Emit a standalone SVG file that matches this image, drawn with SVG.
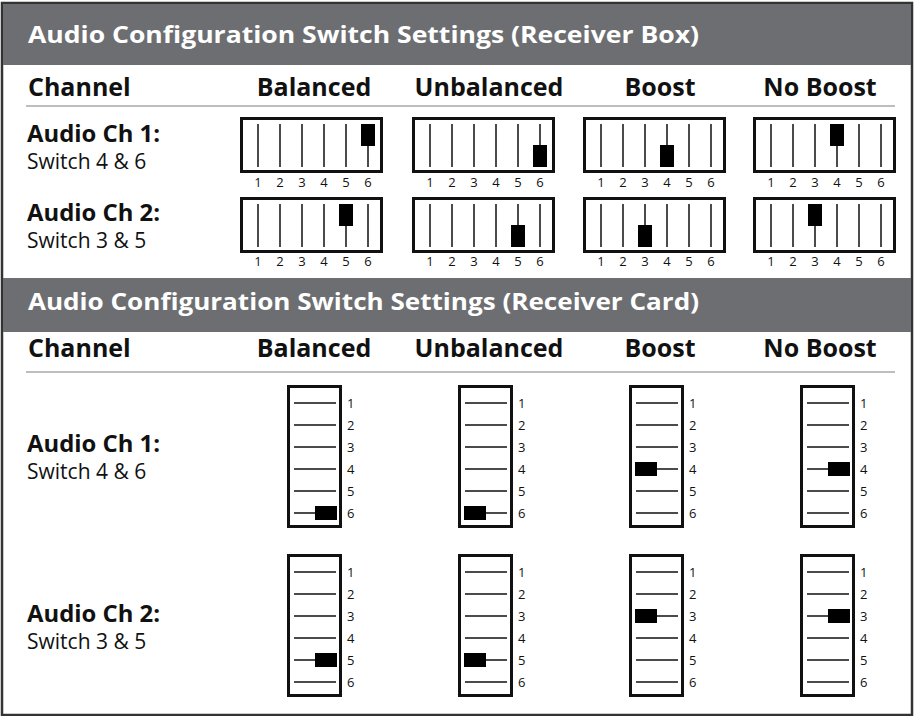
<svg xmlns="http://www.w3.org/2000/svg" width="917" height="716" viewBox="0 0 917 716">
<style>
.hdr{fill:#6d6e71}
.htxt{font-family:"Open Sans","Liberation Sans",sans-serif;font-weight:700;font-size:24px;fill:#fff}
.col{font-family:"Open Sans","Liberation Sans",sans-serif;font-weight:700;font-size:25px;fill:#111}
.ch{font-family:"Open Sans","Liberation Sans",sans-serif;font-weight:700;font-size:23px;fill:#111}
.sw{font-family:"Open Sans","Liberation Sans",sans-serif;font-size:21px;fill:#111}
.num{font-family:"Open Sans","Liberation Sans",sans-serif;font-size:13px;fill:#111}
.mid{text-anchor:middle}
.box{fill:#fff;stroke:#111;stroke-width:3}
.ln{stroke:#111;stroke-width:1.5}
.knob{fill:#000}
.div{stroke:#a7a9ac;stroke-width:1.5}
</style>
<rect x="0" y="0" width="917" height="716" fill="#fff"/>
<rect x="2" y="3" width="910" height="712" fill="none" stroke="#333" stroke-width="2.5"/>

<g id="header-box">
<rect class="hdr" x="3" y="4" width="908" height="61"/>
<text class="htxt" x="28" y="43" textLength="671" lengthAdjust="spacingAndGlyphs">Audio Configuration Switch Settings (Receiver Box)</text>
</g>
<g id="cols-box">
<text class="col" x="28" y="96">Channel</text>
<text class="col mid" x="314" y="96">Balanced</text>
<text class="col mid" x="489" y="96">Unbalanced</text>
<text class="col mid" x="660" y="96">Boost</text>
<text class="col mid" x="820" y="96">No Boost</text>
<line class="div" x1="26" y1="106" x2="895" y2="106"/>
</g>
<g id="rows-box">
<text class="ch" x="27" y="142" textLength="133" lengthAdjust="spacingAndGlyphs">Audio Ch 1:</text>
<text class="sw" x="27" y="169">Switch 4 &amp; 6</text>
<text class="ch" x="27" y="221" textLength="133" lengthAdjust="spacingAndGlyphs">Audio Ch 2:</text>
<text class="sw" x="27" y="248">Switch 3 &amp; 5</text>
</g>

<!-- Top row 1 -->
<g id="box-r1-balanced">
<rect class="box" x="241.5" y="118.5" width="140" height="53"/>
<path class="ln" d="M258 124V167M280 124V167M302 124V167M324 124V167M346 124V167M368 124V167"/>
<rect class="knob" x="361" y="124" width="14" height="22"/>
<g class="num mid"><text x="258" y="187">1</text><text x="280" y="187">2</text><text x="302" y="187">3</text><text x="324" y="187">4</text><text x="346" y="187">5</text><text x="368" y="187">6</text></g>
</g>
<g id="box-r1-unbalanced">
<rect class="box" x="413.5" y="118.5" width="140" height="53"/>
<path class="ln" d="M430 124V167M452 124V167M474 124V167M496 124V167M518 124V167M540 124V167"/>
<rect class="knob" x="533" y="145" width="14" height="22"/>
<g class="num mid"><text x="430" y="187">1</text><text x="452" y="187">2</text><text x="474" y="187">3</text><text x="496" y="187">4</text><text x="518" y="187">5</text><text x="540" y="187">6</text></g>
</g>
<g id="box-r1-boost">
<rect class="box" x="584.5" y="118.5" width="140" height="53"/>
<path class="ln" d="M601 124V167M623 124V167M645 124V167M667 124V167M689 124V167M711 124V167"/>
<rect class="knob" x="660" y="145" width="14" height="22"/>
<g class="num mid"><text x="601" y="187">1</text><text x="623" y="187">2</text><text x="645" y="187">3</text><text x="667" y="187">4</text><text x="689" y="187">5</text><text x="711" y="187">6</text></g>
</g>
<g id="box-r1-noboost">
<rect class="box" x="754.5" y="118.5" width="140" height="53"/>
<path class="ln" d="M771 124V167M793 124V167M815 124V167M837 124V167M859 124V167M881 124V167"/>
<rect class="knob" x="830" y="124" width="14" height="22"/>
<g class="num mid"><text x="771" y="187">1</text><text x="793" y="187">2</text><text x="815" y="187">3</text><text x="837" y="187">4</text><text x="859" y="187">5</text><text x="881" y="187">6</text></g>
</g>

<!-- Top row 2 -->
<g id="box-r2-balanced">
<rect class="box" x="241.5" y="198.5" width="140" height="53"/>
<path class="ln" d="M258 204V247M280 204V247M302 204V247M324 204V247M346 204V247M368 204V247"/>
<rect class="knob" x="339" y="204" width="14" height="22"/>
<g class="num mid"><text x="258" y="266">1</text><text x="280" y="266">2</text><text x="302" y="266">3</text><text x="324" y="266">4</text><text x="346" y="266">5</text><text x="368" y="266">6</text></g>
</g>
<g id="box-r2-unbalanced">
<rect class="box" x="413.5" y="198.5" width="140" height="53"/>
<path class="ln" d="M430 204V247M452 204V247M474 204V247M496 204V247M518 204V247M540 204V247"/>
<rect class="knob" x="511" y="225" width="14" height="22"/>
<g class="num mid"><text x="430" y="266">1</text><text x="452" y="266">2</text><text x="474" y="266">3</text><text x="496" y="266">4</text><text x="518" y="266">5</text><text x="540" y="266">6</text></g>
</g>
<g id="box-r2-boost">
<rect class="box" x="584.5" y="198.5" width="140" height="53"/>
<path class="ln" d="M601 204V247M623 204V247M645 204V247M667 204V247M689 204V247M711 204V247"/>
<rect class="knob" x="638" y="225" width="14" height="22"/>
<g class="num mid"><text x="601" y="266">1</text><text x="623" y="266">2</text><text x="645" y="266">3</text><text x="667" y="266">4</text><text x="689" y="266">5</text><text x="711" y="266">6</text></g>
</g>
<g id="box-r2-noboost">
<rect class="box" x="754.5" y="198.5" width="140" height="53"/>
<path class="ln" d="M771 204V247M793 204V247M815 204V247M837 204V247M859 204V247M881 204V247"/>
<rect class="knob" x="808" y="204" width="14" height="22"/>
<g class="num mid"><text x="771" y="266">1</text><text x="793" y="266">2</text><text x="815" y="266">3</text><text x="837" y="266">4</text><text x="859" y="266">5</text><text x="881" y="266">6</text></g>
</g>

<g id="header-card">
<rect class="hdr" x="3" y="278" width="908" height="54"/>
<text class="htxt" x="28" y="310" textLength="671" lengthAdjust="spacingAndGlyphs">Audio Configuration Switch Settings (Receiver Card)</text>
</g>
<g id="cols-card">
<text class="col" x="28" y="357">Channel</text>
<text class="col mid" x="314" y="357">Balanced</text>
<text class="col mid" x="489" y="357">Unbalanced</text>
<text class="col mid" x="660" y="357">Boost</text>
<text class="col mid" x="820" y="357">No Boost</text>
<line class="div" x1="26" y1="372" x2="895" y2="372"/>
</g>
<g id="rows-card">
<text class="ch" x="27" y="452" textLength="133" lengthAdjust="spacingAndGlyphs">Audio Ch 1:</text>
<text class="sw" x="27" y="479">Switch 4 &amp; 6</text>
<text class="ch" x="27" y="622" textLength="133" lengthAdjust="spacingAndGlyphs">Audio Ch 2:</text>
<text class="sw" x="27" y="649">Switch 3 &amp; 5</text>
</g>

<!-- Bottom row 1 -->
<g id="card-r1-balanced">
<rect class="box" x="288.5" y="386.5" width="52" height="140"/>
<path class="ln" d="M294 403H336M294 425H336M294 447H336M294 469H336M294 491H336M294 513H336"/>
<rect class="knob" x="315" y="506" width="22" height="14"/>
<g class="num"><text x="347" y="408">1</text><text x="347" y="430">2</text><text x="347" y="452">3</text><text x="347" y="474">4</text><text x="347" y="496">5</text><text x="347" y="518">6</text></g>
</g>
<g id="card-r1-unbalanced">
<rect class="box" x="459.5" y="386.5" width="52" height="140"/>
<path class="ln" d="M465 403H507M465 425H507M465 447H507M465 469H507M465 491H507M465 513H507"/>
<rect class="knob" x="464" y="506" width="22" height="14"/>
<g class="num"><text x="518" y="408">1</text><text x="518" y="430">2</text><text x="518" y="452">3</text><text x="518" y="474">4</text><text x="518" y="496">5</text><text x="518" y="518">6</text></g>
</g>
<g id="card-r1-boost">
<rect class="box" x="630.5" y="386.5" width="52" height="140"/>
<path class="ln" d="M636 403H678M636 425H678M636 447H678M636 469H678M636 491H678M636 513H678"/>
<rect class="knob" x="635" y="462" width="22" height="14"/>
<g class="num"><text x="689" y="408">1</text><text x="689" y="430">2</text><text x="689" y="452">3</text><text x="689" y="474">4</text><text x="689" y="496">5</text><text x="689" y="518">6</text></g>
</g>
<g id="card-r1-noboost">
<rect class="box" x="801.5" y="386.5" width="52" height="140"/>
<path class="ln" d="M807 403H849M807 425H849M807 447H849M807 469H849M807 491H849M807 513H849"/>
<rect class="knob" x="828" y="462" width="22" height="14"/>
<g class="num"><text x="860" y="408">1</text><text x="860" y="430">2</text><text x="860" y="452">3</text><text x="860" y="474">4</text><text x="860" y="496">5</text><text x="860" y="518">6</text></g>
</g>

<!-- Bottom row 2 -->
<g id="card-r2-balanced">
<rect class="box" x="288.5" y="555.5" width="52" height="140"/>
<path class="ln" d="M294 572H336M294 594H336M294 616H336M294 638H336M294 660H336M294 682H336"/>
<rect class="knob" x="315" y="653" width="22" height="14"/>
<g class="num"><text x="347" y="577">1</text><text x="347" y="599">2</text><text x="347" y="621">3</text><text x="347" y="643">4</text><text x="347" y="665">5</text><text x="347" y="687">6</text></g>
</g>
<g id="card-r2-unbalanced">
<rect class="box" x="459.5" y="555.5" width="52" height="140"/>
<path class="ln" d="M465 572H507M465 594H507M465 616H507M465 638H507M465 660H507M465 682H507"/>
<rect class="knob" x="464" y="653" width="22" height="14"/>
<g class="num"><text x="518" y="577">1</text><text x="518" y="599">2</text><text x="518" y="621">3</text><text x="518" y="643">4</text><text x="518" y="665">5</text><text x="518" y="687">6</text></g>
</g>
<g id="card-r2-boost">
<rect class="box" x="630.5" y="555.5" width="52" height="140"/>
<path class="ln" d="M636 572H678M636 594H678M636 616H678M636 638H678M636 660H678M636 682H678"/>
<rect class="knob" x="635" y="609" width="22" height="14"/>
<g class="num"><text x="689" y="577">1</text><text x="689" y="599">2</text><text x="689" y="621">3</text><text x="689" y="643">4</text><text x="689" y="665">5</text><text x="689" y="687">6</text></g>
</g>
<g id="card-r2-noboost">
<rect class="box" x="801.5" y="555.5" width="52" height="140"/>
<path class="ln" d="M807 572H849M807 594H849M807 616H849M807 638H849M807 660H849M807 682H849"/>
<rect class="knob" x="828" y="609" width="22" height="14"/>
<g class="num"><text x="860" y="577">1</text><text x="860" y="599">2</text><text x="860" y="621">3</text><text x="860" y="643">4</text><text x="860" y="665">5</text><text x="860" y="687">6</text></g>
</g>
</svg>
